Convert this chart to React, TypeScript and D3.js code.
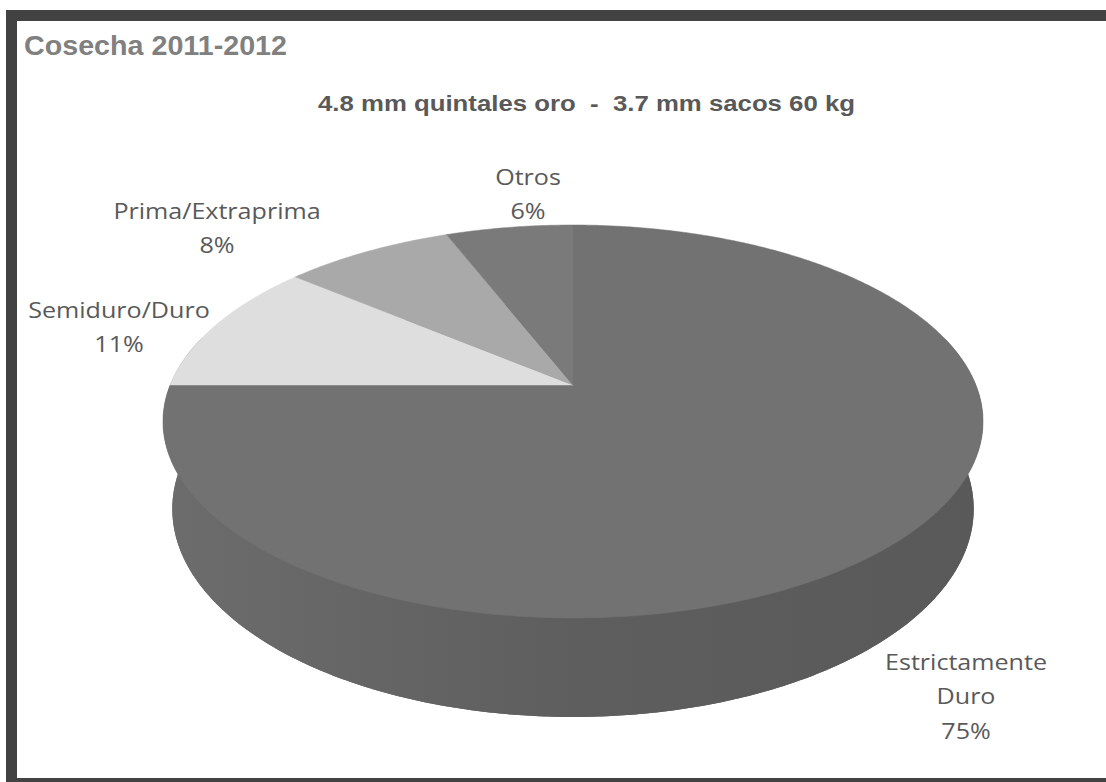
import React, { useEffect } from 'react';
import * as d3 from 'd3';

// ---- data ----
const categories = ['Estrictamente Duro', 'Semiduro/Duro', 'Prima/Extraprima', 'Otros'];
const values = [75, 11, 8, 6];
const labelLines = [['Estrictamente', 'Duro'], ['Semiduro/Duro'], ['Prima/Extraprima'], ['Otros']];
const topColors = ['#727272', '#dedede', '#a9a9a9', '#7a7a7a'];
const titleText = 'Cosecha 2011-2012';
const subtitleText = '4.8 mm quintales oro  -  3.7 mm sacos 60 kg';

// ---- layout ----
const W = 1106;
const H = 782;
const CX = 573, CY = 385, A = 402.9, B = 189.7, K = 0.1857, P = 0.0225, Q = 88.1;
const labelAnchors: [number, number][] = [[966, 670], [119, 318], [217, 219], [528, 185]];
const LINE = 34.5;

function project(theta: number, r: number, h: number): [number, number] {
  const u = r * Math.sin(theta);
  const v = -r * Math.cos(theta);
  const w = 1 - K * v + P * h;
  return [CX + (A * u) / w, CY + (B * v + Q * h) / w];
}

export default function App() {
  useEffect(() => {
    document.body.style.margin = '0';
    document.body.style.overflow = 'hidden';
  }, []);

  const total = d3.sum(values);
  const arcs = d3.pie<number>().sort(null).value((d) => d)(values);
  const deg = Math.PI / 180;

  // side wall: top arc forward, bottom arc back
  const t0 = 75, t1 = 285;
  const topArc = d3.range(t0, t1 + 0.001, 0.5).map((t) => project(t * deg, 1, 0));
  const botArc = d3.range(t1, t0 - 0.001, -0.5).map((t) => project(t * deg, 1, 1));
  const wallPath = d3.line()([...topArc, ...botArc]) + 'Z';
  const bottomFace = d3.line()(d3.range(0, 360, 1).map((t) => project(t * deg, 1, 1))) + 'Z';

  const c = project(0, 0, 0);
  const slicePaths = arcs.map((a) => {
    const n = Math.max(4, Math.ceil((a.endAngle - a.startAngle) / (0.5 * deg)));
    const pts = d3.range(n + 1).map((i) => project(a.startAngle + ((a.endAngle - a.startAngle) * i) / n, 1, 0));
    return d3.line()([c, ...pts]) + 'Z';
  });

  return (
    <svg width={W} height={H} style={{ position: 'absolute', left: 0, top: 0, background: '#fff', display: 'block' }}>
      <defs>
        <linearGradient id="wall" gradientUnits="userSpaceOnUse" x1={CX - A} x2={CX + A} y1={0} y2={0}>
          <stop offset="0" stopColor="#6c6c6c" />
          <stop offset="0.5" stopColor="#5e5e5e" />
          <stop offset="1" stopColor="#595959" />
        </linearGradient>
      </defs>
      <rect x={0} y={0} width={W} height={H} fill="#fff" />
      {/* frame: top, left, bottom (right edge lies outside the picture) */}
      <rect x={6} y={10} width={W - 6} height={11} fill="#424242" />
      <rect x={6} y={10} width={11} height={H - 10} fill="#424242" />
      <rect x={6} y={778} width={W - 6} height={11} fill="#424242" />

      <text
        x={24}
        y={55}
        fontFamily="Liberation Sans, Arial, sans-serif"
        fontWeight="bold"
        fontSize={27}
        fill="#808080"
        textLength={263}
        lengthAdjust="spacingAndGlyphs"
      >
        {titleText}
      </text>
      <text
        x={586.5}
        y={111}
        textAnchor="middle"
        fontFamily="Liberation Sans, Arial, sans-serif"
        fontWeight="bold"
        fontSize={22}
        fill="#595959"
        textLength={537}
        lengthAdjust="spacingAndGlyphs"
        style={{ whiteSpace: 'pre' }}
      >
        {subtitleText}
      </text>

      <path d={bottomFace} fill="url(#wall)" />
      <path d={wallPath} fill="url(#wall)" />
      <g>
        {slicePaths.map((d, i) => (
          <path key={categories[i]} d={d} fill={topColors[i]} stroke={topColors[i]} strokeWidth={0.5} />
        ))}
      </g>

      <g fontFamily="Open Sans, Noto Sans, sans-serif" fontSize={22} fill="#595959">
        {labelLines.map((lines, i) => {
          const [lx, ly] = labelAnchors[i];
          const pct = Math.round((values[i] / total) * 100) + '%';
          const all = [...lines, pct];
          return (
            <g key={categories[i]} transform={`translate(${lx},${ly}) scale(1.14,1)`}>
              {all.map((t, j) => (
                <text key={j} x={0} y={j * LINE} textAnchor="middle">
                  {t}
                </text>
              ))}
            </g>
          );
        })}
      </g>
    </svg>
  );
}
